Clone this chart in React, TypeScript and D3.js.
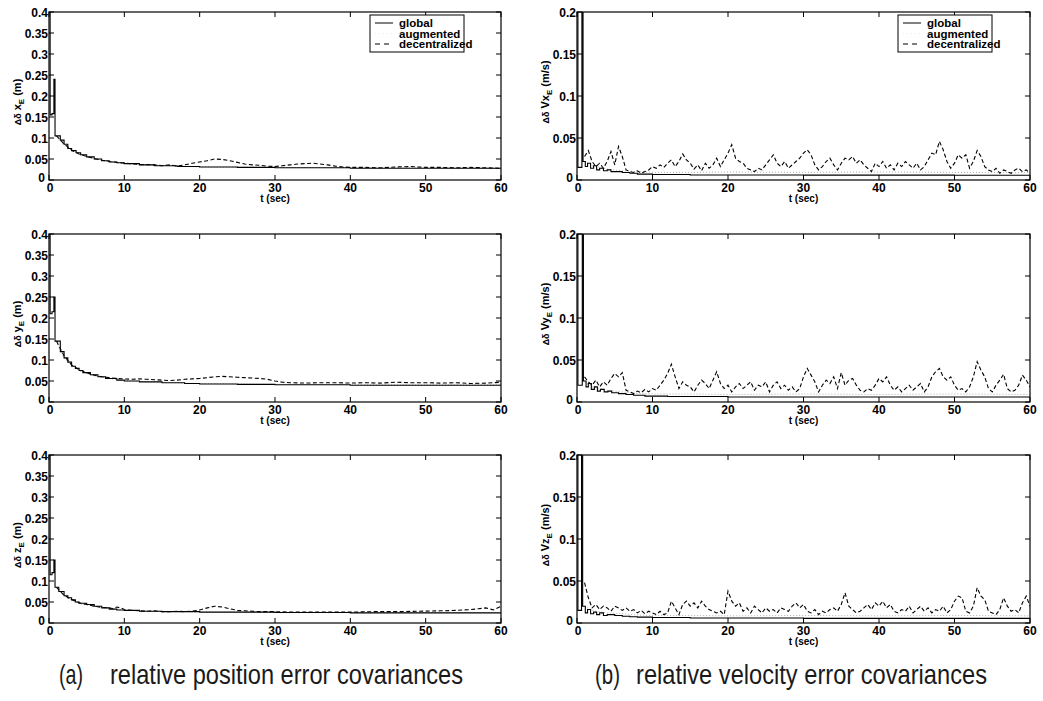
import React from "react";
import * as d3 from "d3";

// ---------- data ----------
const X_TICKS = [0, 10, 20, 30, 40, 50, 60];
const POS_Y_TICKS = [0, 0.05, 0.1, 0.15, 0.2, 0.25, 0.3, 0.35, 0.4];
const VEL_Y_TICKS = [0, 0.05, 0.1, 0.15, 0.2];
const LEGEND = ["global", "augmented", "decentralized"];

// relative position error covariances [t, value]
const posXGlobal: [number, number][] = [[0,0.4],[0.15,0.155],[0.4,0.158],[0.65,0.24],[0.8,0.105],[1.5,0.095],[2,0.085],[2.5,0.075],[3,0.07],[3.6,0.065],[4.2,0.06],[5,0.055],[6,0.05],[7,0.046],[8,0.043],[9,0.041],[10,0.039],[12,0.036],[14,0.034],[17,0.032],[20,0.031],[25,0.03],[30,0.029],[40,0.028],[50,0.028],[60,0.027]];
const posXAug: [number, number][] = [[1,0.104],[2,0.084],[4,0.061],[6,0.05],[10,0.039],[20,0.031],[30,0.03],[45,0.029],[60,0.028]];
const posXDec: [number, number][] = [[1,0.105],[2,0.086],[3,0.071],[4,0.062],[5,0.056],[6,0.051],[7,0.047],[8,0.044],[10,0.04],[12,0.037],[14,0.036],[15,0.034],[16,0.036],[17,0.033],[18,0.036],[19,0.04],[20,0.043],[21,0.046],[22,0.05],[23,0.049],[24,0.046],[25,0.042],[26,0.038],[27,0.036],[28,0.035],[29,0.033],[30,0.032],[31,0.034],[32,0.036],[33,0.038],[34,0.039],[35,0.04],[36,0.038],[37,0.036],[38,0.033],[39,0.031],[40,0.03],[42,0.03],[44,0.029],[46,0.031],[48,0.032],[50,0.03],[52,0.03],[54,0.029],[56,0.03],[58,0.029],[60,0.028]];

const posYGlobal: [number, number][] = [[0,0.4],[0.15,0.21],[0.4,0.215],[0.65,0.25],[0.8,0.145],[1.5,0.12],[2,0.105],[2.5,0.095],[3,0.085],[3.5,0.08],[4,0.075],[4.5,0.07],[5.5,0.065],[6.5,0.06],[7.5,0.056],[9,0.052],[10,0.05],[12,0.048],[15,0.046],[18,0.044],[20,0.043],[25,0.042],[30,0.041],[40,0.04],[50,0.04],[60,0.04]];
const posYAug: [number, number][] = [[1,0.144],[2,0.104],[4,0.074],[6,0.062],[10,0.05],[20,0.044],[30,0.042],[45,0.041],[60,0.041]];
const posYDec: [number, number][] = [[1,0.145],[2,0.11],[3,0.088],[4,0.077],[5,0.07],[6,0.064],[7,0.06],[8,0.058],[9,0.056],[10,0.055],[11,0.054],[12,0.055],[13,0.054],[14,0.053],[15,0.052],[16,0.051],[17,0.052],[18,0.054],[19,0.055],[20,0.056],[21,0.058],[22,0.06],[23,0.061],[24,0.06],[25,0.059],[26,0.058],[27,0.057],[28,0.056],[29,0.054],[30,0.05],[31,0.047],[32,0.046],[34,0.045],[36,0.046],[38,0.046],[40,0.045],[42,0.046],[44,0.045],[46,0.047],[48,0.046],[50,0.046],[52,0.045],[54,0.046],[56,0.044],[58,0.045],[60,0.047]];

const posZGlobal: [number, number][] = [[0,0.4],[0.15,0.115],[0.4,0.12],[0.65,0.15],[0.8,0.085],[1.3,0.075],[2,0.065],[2.5,0.06],[3,0.055],[3.5,0.05],[4,0.047],[5,0.044],[6,0.04],[7,0.036],[8,0.033],[9,0.031],[10,0.03],[12,0.028],[15,0.027],[20,0.026],[30,0.025],[40,0.024],[50,0.024],[60,0.024]];
const posZAug: [number, number][] = [[1,0.084],[2,0.064],[4,0.046],[6,0.04],[10,0.03],[20,0.026],[30,0.025],[45,0.025],[60,0.025]];
const posZDec: [number, number][] = [[1,0.085],[2,0.066],[3,0.056],[4,0.048],[5,0.044],[6,0.04],[7,0.037],[8,0.036],[8.5,0.034],[9,0.038],[9.5,0.036],[10,0.032],[11,0.03],[12,0.029],[13,0.028],[14,0.029],[15,0.027],[16,0.027],[17,0.028],[18,0.027],[19,0.028],[20,0.031],[21,0.036],[22,0.04],[23,0.038],[24,0.034],[25,0.03],[26,0.029],[27,0.028],[28,0.027],[30,0.027],[32,0.026],[35,0.026],[38,0.026],[40,0.026],[43,0.027],[46,0.027],[49,0.028],[52,0.029],[54,0.03],[56,0.032],[57,0.034],[58,0.036],[59,0.031],[60,0.04]];

// relative velocity error covariances
const velXGlobal: [number, number][] = [[0,0.3],[0.12,0.015],[0.65,0.3],[0.8,0.022],[1.1,0.016],[1.4,0.02],[1.8,0.014],[2.2,0.017],[2.6,0.012],[3,0.014],[3.5,0.011],[4,0.012],[4.5,0.01],[5,0.01],[6,0.009],[7,0.008],[8,0.007],[10,0.0065],[15,0.006],[20,0.006],[30,0.0058],[40,0.0058],[50,0.0057],[60,0.0057]];
const velYGlobal: [number, number][] = [[0,0.3],[0.12,0.02],[0.7,0.3],[0.85,0.025],[1.2,0.018],[1.5,0.022],[1.9,0.015],[2.3,0.018],[2.7,0.013],[3.1,0.015],[3.6,0.012],[4.1,0.013],[4.6,0.011],[5.5,0.01],[6.5,0.009],[7.5,0.008],[9,0.007],[12,0.0065],[20,0.006],[30,0.006],[40,0.006],[60,0.006]];
const velZGlobal: [number, number][] = [[0,0.3],[0.12,0.015],[0.6,0.3],[0.75,0.02],[1.1,0.012],[1.4,0.016],[1.8,0.011],[2.2,0.013],[2.6,0.01],[3,0.012],[3.5,0.009],[4,0.01],[5,0.009],[6,0.008],[7,0.0075],[8,0.007],[10,0.0065],[15,0.006],[20,0.006],[30,0.0055],[40,0.0055],[60,0.0055]];

const velXAug: [number, number][] = [[1,0.022],[2,0.017],[4,0.013],[6,0.011],[8,0.01],[10,0.009],[15,0.009],[20,0.0095],[30,0.009],[40,0.0095],[50,0.009],[60,0.009]];
const velYAug: [number, number][] = [[1,0.024],[2,0.018],[4,0.014],[6,0.012],[8,0.01],[10,0.0095],[15,0.0095],[20,0.009],[30,0.0095],[40,0.009],[50,0.0095],[60,0.009]];
const velZAug: [number, number][] = [[1,0.02],[2,0.015],[4,0.012],[6,0.011],[8,0.0095],[10,0.009],[15,0.009],[20,0.0085],[30,0.009],[40,0.0085],[50,0.009],[60,0.0085]];

// decentralized velocity samples, t = 1.0, 1.5, ..., 60.0
const VEL_DEC_TIMES = d3.range(1, 60.001, 0.5);
const velXDec = [
  0.028,0.035,0.022,0.016,0.02,0.014,0.022,0.034,0.018,0.04,
  0.028,0.012,0.01,0.009,0.011,0.008,0.01,0.012,0.016,0.014,
  0.018,0.015,0.02,0.024,0.016,0.022,0.031,0.024,0.02,0.013,
  0.018,0.011,0.02,0.014,0.018,0.026,0.016,0.024,0.032,0.042,
  0.026,0.022,0.02,0.014,0.012,0.01,0.014,0.012,0.018,0.024,
  0.03,0.02,0.016,0.022,0.014,0.018,0.022,0.026,0.032,0.036,
  0.03,0.018,0.012,0.016,0.022,0.026,0.018,0.012,0.02,0.026,
  0.024,0.028,0.02,0.024,0.018,0.014,0.01,0.02,0.016,0.022,
  0.014,0.018,0.012,0.02,0.016,0.022,0.018,0.014,0.02,0.012,
  0.016,0.024,0.032,0.03,0.046,0.036,0.022,0.014,0.02,0.03,
  0.026,0.03,0.014,0.022,0.035,0.028,0.016,0.012,0.01,0.014,
  0.008,0.012,0.01,0.008,0.012,0.014,0.01,0.012,0.008,
];
const velYDec = [
  0.03,0.024,0.02,0.026,0.018,0.024,0.02,0.028,0.034,0.03,
  0.035,0.014,0.012,0.01,0.013,0.011,0.015,0.012,0.016,0.014,
  0.02,0.026,0.034,0.045,0.03,0.016,0.024,0.02,0.018,0.012,
  0.02,0.026,0.022,0.016,0.026,0.036,0.022,0.016,0.02,0.012,
  0.018,0.022,0.016,0.02,0.024,0.014,0.02,0.018,0.024,0.012,
  0.02,0.024,0.016,0.02,0.014,0.018,0.012,0.016,0.03,0.04,
  0.032,0.024,0.012,0.02,0.026,0.022,0.03,0.016,0.035,0.02,
  0.026,0.028,0.02,0.014,0.012,0.016,0.014,0.02,0.028,0.024,
  0.03,0.02,0.014,0.018,0.012,0.016,0.02,0.014,0.018,0.022,
  0.012,0.018,0.03,0.036,0.04,0.03,0.026,0.03,0.02,0.014,
  0.016,0.012,0.018,0.03,0.048,0.038,0.03,0.016,0.012,0.02,
  0.026,0.033,0.016,0.012,0.014,0.02,0.032,0.026,0.018,
];
const velZDec = [
  0.048,0.03,0.018,0.022,0.016,0.02,0.018,0.014,0.02,0.018,
  0.015,0.018,0.014,0.016,0.012,0.015,0.011,0.014,0.012,0.01,
  0.014,0.01,0.012,0.026,0.018,0.01,0.022,0.026,0.02,0.024,
  0.018,0.026,0.02,0.016,0.014,0.012,0.014,0.01,0.038,0.026,
  0.02,0.024,0.014,0.018,0.012,0.02,0.016,0.012,0.018,0.014,
  0.016,0.012,0.018,0.016,0.014,0.02,0.024,0.018,0.022,0.014,
  0.012,0.016,0.01,0.014,0.012,0.016,0.018,0.014,0.022,0.036,
  0.02,0.016,0.012,0.014,0.018,0.022,0.016,0.024,0.02,0.026,
  0.018,0.022,0.014,0.012,0.016,0.014,0.02,0.012,0.016,0.02,
  0.014,0.018,0.012,0.016,0.014,0.02,0.012,0.016,0.026,0.032,
  0.03,0.014,0.012,0.02,0.042,0.032,0.028,0.014,0.012,0.01,
  0.016,0.03,0.02,0.014,0.016,0.012,0.024,0.032,0.02,
];

// ---------- layout ----------
const W = 1043;
const H = 701;
const PANEL_TOPS = [12, 234, 455];
const PANEL_H = 168;
const LEFT_X = [49, 501];
const RIGHT_X = [577, 1030];
const FONT = "'Liberation Sans', Arial, Helvetica, sans-serif";

type Series = { data: [number, number][]; kind: "global" | "aug" | "dec"; step?: boolean };

function Panel(props: {
  id: string;
  x0: number;
  x1: number;
  top: number;
  yMax: number;
  yTicks: number[];
  series: Series[];
  ylabel: { base: string; sub: string; unit: string };
  ylabelOffset: number;
  legend: boolean;
}) {
  const { id, x0, x1, top, yMax, yTicks, series, ylabel, legend } = props;
  const x = d3.scaleLinear().domain([0, 60]).range([x0, x1]);
  const y = d3.scaleLinear().domain([0, yMax]).range([top + PANEL_H, top]);
  const bottom = top + PANEL_H;
  const tickLen = 5;
  const fmt = (v: number) => (v === 0 ? "0" : String(+v.toFixed(2)));
  const styles: Record<string, any> = {
    global: { stroke: "#000", strokeWidth: 1.1, dash: undefined },
    aug: { stroke: "#9a9a9a", strokeWidth: 0.8, dash: "1,2" },
    dec: { stroke: "#000", strokeWidth: 1.1, dash: "4,2.5" },
  };
  const cx = (x0 + x1) / 2;
  return (
    <g>
      <defs>
        <clipPath id={id}>
          <rect x={x0} y={top} width={x1 - x0} height={PANEL_H} />
        </clipPath>
      </defs>
      <g clipPath={`url(#${id})`}>
        {series.map((s, i) => {
          const line = d3
            .line<[number, number]>()
            .x((d) => x(d[0]))
            .y((d) => y(d[1]))
            .curve(s.step ? d3.curveStepAfter : d3.curveLinear);
          const st = styles[s.kind];
          return (
            <path
              key={i}
              d={line(s.data) || ""}
              fill="none"
              stroke={st.stroke}
              strokeWidth={st.strokeWidth}
              strokeDasharray={st.dash}
            />
          );
        })}
      </g>
      <rect x={x0} y={top} width={x1 - x0} height={PANEL_H} fill="none" stroke="#000" strokeWidth={1.2} />
      {X_TICKS.map((t) => (
        <g key={"xt" + t}>
          <line x1={x(t)} x2={x(t)} y1={bottom} y2={bottom - tickLen} stroke="#000" strokeWidth={1} />
          <line x1={x(t)} x2={x(t)} y1={top} y2={top + tickLen} stroke="#000" strokeWidth={1} />
          <text x={x(t) + (t === 0 ? 1 : 0)} y={bottom + 12} textAnchor="middle" fontFamily={FONT} fontWeight="bold" fontSize={12}>
            {t}
          </text>
        </g>
      ))}
      {yTicks.map((v) => (
        <g key={"yt" + v}>
          <line x1={x0} x2={x0 + tickLen} y1={y(v)} y2={y(v)} stroke="#000" strokeWidth={1} />
          <line x1={x1} x2={x1 - tickLen} y1={y(v)} y2={y(v)} stroke="#000" strokeWidth={1} />
          <text x={x0 - (v === 0 ? 4 : 1)} y={y(v) + (v === 0 ? 2 : 4.5)} textAnchor="end" fontFamily={FONT} fontWeight="bold" fontSize={12}>
            {fmt(v)}
          </text>
        </g>
      ))}
      <text x={cx} y={bottom + 22} textAnchor="middle" fontFamily={FONT} fontWeight="bold" fontSize={10}>
        t (sec)
      </text>
      <text
        transform={`translate(${x0 - 28},${top + props.ylabelOffset}) rotate(-90)`}
        textAnchor="middle"
        fontFamily={FONT}
        fontWeight="bold"
        fontSize={11}
      >
        <tspan fontSize={9}>Δδ</tspan>
        <tspan> {ylabel.base}</tspan>
        <tspan fontSize={8} dy={3}>{ylabel.sub}</tspan>
        <tspan dy={-3}> {ylabel.unit}</tspan>
      </text>
      {legend && (
        <g transform={`translate(${x0 + 321},${top + 3})`}>
          <rect x={0} y={0} width={94} height={37} fill="#fff" stroke="#000" strokeWidth={1} />
          {LEGEND.map((name, i) => {
            const ly = 8 + i * 10.5;
            const kind = i === 0 ? "global" : i === 1 ? "aug" : "dec";
            const st = styles[kind];
            return (
              <g key={name}>
                <line
                  x1={5}
                  x2={23}
                  y1={ly}
                  y2={ly}
                  stroke={st.stroke}
                  strokeWidth={kind === "aug" ? 0.5 : 1}
                  strokeDasharray={kind === "dec" ? "5,4" : kind === "aug" ? "1,3" : undefined}
                  opacity={kind === "aug" ? 0.35 : 1}
                />
                <text x={29} y={ly + 4} fontFamily={FONT} fontWeight="bold" fontSize={11.5}>
                  {name}
                </text>
              </g>
            );
          })}
        </g>
      )}
    </g>
  );
}

const toPairs = (vals: number[]): [number, number][] => vals.map((v, i) => [VEL_DEC_TIMES[i], v]);

const CAP_SX = 0.85;

export default function App() {
  const posPanels = [
    { g: posXGlobal, a: posXAug, d: posXDec, label: "x", sub: "E" },
    { g: posYGlobal, a: posYAug, d: posYDec, label: "y", sub: "E" },
    { g: posZGlobal, a: posZAug, d: posZDec, label: "z", sub: "E" },
  ];
  const velPanels = [
    { g: velXGlobal, a: velXAug, d: velXDec, label: "Vx", sub: "E" },
    { g: velYGlobal, a: velYAug, d: velYDec, label: "Vy", sub: "E" },
    { g: velZGlobal, a: velZAug, d: velZDec, label: "Vz", sub: "E" },
  ];
  const captions = [
    { x: 59, w: 24, s: "(a)" },
    { x: 110, w: 353, s: "relative position error covariances" },
    { x: 595, w: 25, s: "(b)" },
    { x: 636, w: 351, s: "relative velocity error covariances" },
  ];
  return (
    <svg
      width={W}
      height={H}
      viewBox={`0 0 ${W} ${H}`}
      style={{ position: "absolute", left: 0, top: 0, background: "#fff" }}
    >
      <rect x={0} y={0} width={W} height={H} fill="#fff" />
      {posPanels.map((p, i) => (
        <Panel
          key={"p" + i}
          id={"clipp" + i}
          x0={LEFT_X[0]}
          x1={LEFT_X[1]}
          top={PANEL_TOPS[i]}
          yMax={0.4}
          yTicks={POS_Y_TICKS}
          series={[
            { data: p.a, kind: "aug" },
            { data: p.d, kind: "dec" },
            { data: p.g, kind: "global", step: true },
          ]}
          ylabel={{ base: p.label, sub: p.sub, unit: "(m)" }}
          ylabelOffset={90}
          legend={i === 0}
        />
      ))}
      {velPanels.map((p, i) => (
        <Panel
          key={"v" + i}
          id={"clipv" + i}
          x0={RIGHT_X[0]}
          x1={RIGHT_X[1]}
          top={PANEL_TOPS[i]}
          yMax={0.2}
          yTicks={VEL_Y_TICKS}
          series={[
            { data: p.a, kind: "aug" },
            { data: toPairs(p.d), kind: "dec" },
            { data: p.g, kind: "global", step: true },
          ]}
          ylabel={{ base: p.label, sub: p.sub, unit: "(m/s)" }}
          ylabelOffset={80}
          legend={i === 0}
        />
      ))}
      <g fontFamily="'Liberation Sans', Arial, sans-serif" fontSize={28} fill="#1a1a1a">
        {captions.map((c) => (
          <text
            key={c.s}
            transform={`translate(${c.x},684) scale(${CAP_SX},1)`}
            textLength={c.w / CAP_SX}
            lengthAdjust="spacingAndGlyphs"
          >
            {c.s}
          </text>
        ))}
      </g>
    </svg>
  );
}
